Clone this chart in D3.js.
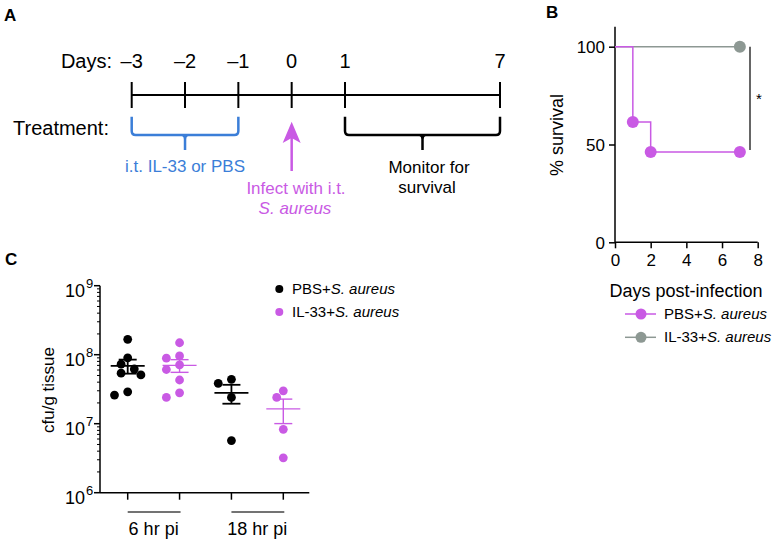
<!DOCTYPE html>
<html lang="en">
<head>
    <meta charset="UTF-8">
    <title>IL-33 and S. aureus</title>
    <script src="https://d3js.org/d3.v7.min.js"></script>
    <style>
        body { margin: 0; background: white; }
        svg { display: block; font-family: "Liberation Sans", Arial, sans-serif; }
        .ax line, .ax path { stroke: black; stroke-width: 1.5px; }
        .ax text { font-size: 17px; fill: black; font-family: "Liberation Sans", Arial, sans-serif; }
    </style>
</head>
<body>
<svg id="canvas" width="774" height="539"></svg>
<script>
    // ---- panel A: timeline ----
    const timelineDays = [-3, -2, -1, 0, 1, 7];
    const dayLabels = ["\u20133", "\u20132", "\u20131", "0", "1", "7"];

    // ---- panel B: survival ----
    const survivalDays = [0, 1, 2, 7];
    const pbsSurvival = [100, 61.5, 46.2, 46.2];
    const il33Survival = [100, 100, 100, 100];
    const survivalTicksX = [0, 2, 4, 6, 8];
    const survivalTicksY = [0, 50, 100];

    // ---- panel C: cfu per g tissue ----
    const timeGroups = ["6 hr pi", "18 hr pi"];
    const pbs6 = [1.67e8, 9.0e7, 7.3e7, 6.2e7, 5.4e7, 5.1e7, 2.9e7, 2.6e7];
    const il33_6 = [1.49e8, 9.6e7, 8.9e7, 7.1e7, 6.1e7, 4.3e7, 2.8e7, 2.4e7];
    const pbs18 = [4.4e7, 3.85e7, 2.4e7, 5.7e6];
    const il33_18 = [3.0e7, 2.4e7, 8.3e6, 3.2e6];
    const cfuExponents = [6, 7, 8, 9];

    const purple = "#c95ae4", blue = "#3b7ed8", grey = "#8d9893";
    const svg = d3.select("#canvas");

    // panel letters
    [["A", 4, 21], ["B", 546, 18], ["C", 5, 265]].forEach(([t, x, y]) => {
        svg.append("text").attr("x", x).attr("y", y).text(t)
            .style("font-size", "17px").style("font-weight", "bold");
    });

    // ================= A =================
    const tx = d3.scaleLinear().domain([-3, 1, 7]).range([131.7, 345, 500]);
    const gA = svg.append("g");
    const lineY = 95;
    gA.append("line").attr("x1", tx(-3)).attr("x2", tx(7)).attr("y1", lineY).attr("y2", lineY)
        .attr("stroke", "black").attr("stroke-width", 2);
    gA.selectAll(".tk").data(timelineDays).enter().append("line")
        .attr("x1", d => tx(d)).attr("x2", d => tx(d))
        .attr("y1", lineY - 13).attr("y2", lineY + 13)
        .attr("stroke", "black").attr("stroke-width", 2);
    gA.selectAll(".dl").data(timelineDays).enter().append("text")
        .attr("x", d => tx(d)).attr("y", 68).attr("text-anchor", "middle")
        .style("font-size", "20px").text((d, i) => dayLabels[i]);
    gA.append("text").attr("x", 112).attr("y", 68).attr("text-anchor", "end")
        .style("font-size", "20px").text("Days:");
    gA.append("text").attr("x", 13).attr("y", 135)
        .style("font-size", "20px").text("Treatment:");

    function brace(x1, x2, color) {
        const top = 116.7, h = 135, r = 4, xm = (x1 + x2) / 2;
        gA.append("path")
            .attr("d", `M${x1},${top}V${h - r}Q${x1},${h} ${x1 + r},${h}H${x2 - r}Q${x2},${h} ${x2},${h - r}V${top}` +
                `M${xm - 3},${h}Q${xm},${h} ${xm},${h + 4}V${h + 15}M${xm + 3},${h}Q${xm},${h} ${xm},${h + 4}`)
            .attr("fill", "none").attr("stroke", color).attr("stroke-width", 2.5);
    }
    brace(tx(-3), tx(-1), blue);
    brace(tx(1), tx(7), "black");

    gA.append("text").attr("x", (tx(-3) + tx(-1)) / 2).attr("y", 172).attr("text-anchor", "middle")
        .style("font-size", "17px").attr("fill", blue).text("i.t. IL-33 or PBS");

    // arrow at day 0
    const ax0 = tx(0);
    gA.append("line").attr("x1", ax0).attr("x2", ax0).attr("y1", 171).attr("y2", 135)
        .attr("stroke", purple).attr("stroke-width", 2.5);
    gA.append("path")
        .attr("d", `M${ax0},121.7L${ax0 - 9},143L${ax0},138L${ax0 + 9},143Z`)
        .attr("fill", purple);
    gA.append("text").attr("x", 296).attr("y", 194).attr("text-anchor", "middle")
        .style("font-size", "17px").attr("fill", purple).text("Infect with i.t.");
    gA.append("text").attr("x", 295).attr("y", 214).attr("text-anchor", "middle")
        .style("font-size", "17px").style("font-style", "italic").attr("fill", purple).text("S. aureus");

    gA.append("text").attr("x", 429).attr("y", 173).attr("text-anchor", "middle")
        .style("font-size", "17px").text("Monitor for");
    gA.append("text").attr("x", 427).attr("y", 193).attr("text-anchor", "middle")
        .style("font-size", "17px").text("survival");

    // ================= B =================
    const bx = d3.scaleLinear().domain([0, 8]).range([615, 757.7]);
    const by = d3.scaleLinear().domain([0, 100]).range([242.3, 46.7]);
    const gB = svg.append("g");

    const gxB = gB.append("g").attr("class", "ax").attr("transform", `translate(0,${by(0)})`)
        .call(d3.axisBottom(bx).tickValues(survivalTicksX).tickSize(6).tickPadding(6));
    const gyB = gB.append("g").attr("class", "ax").attr("transform", `translate(${bx(0)},0)`)
        .call(d3.axisLeft(by).tickValues(survivalTicksY).tickSize(6).tickPadding(4));
    gxB.select(".domain").remove();
    gyB.select(".domain").remove();
    gB.append("line").attr("x1", bx(0)).attr("x2", bx(8)).attr("y1", by(0)).attr("y2", by(0))
        .attr("stroke", "black").attr("stroke-width", 1.5);
    gB.append("line").attr("x1", bx(0)).attr("x2", bx(0)).attr("y1", by(0)).attr("y2", 26.7)
        .attr("stroke", "black").attr("stroke-width", 1.5);
    gyB.selectAll("text").attr("dy", "0.35em");

    gB.append("text").attr("x", 686).attr("y", 297).attr("text-anchor", "middle")
        .style("font-size", "18px").text("Days post-infection");
    gB.append("text").attr("transform", "translate(563,135) rotate(-90)").attr("text-anchor", "middle")
        .style("font-size", "18px").text("% survival");

    const step = d3.line().curve(d3.curveStepAfter).x(d => bx(d[0])).y(d => by(d[1]));
    function survivalCurve(vals, color) {
        const pts = survivalDays.map((d, i) => [d, vals[i]]);
        gB.append("path").attr("d", step(pts)).attr("fill", "none")
            .attr("stroke", color).attr("stroke-width", 1.5);
        const marks = pts.filter((p, i) => i > 0 && (p[1] !== vals[i - 1] || i === pts.length - 1));
        gB.selectAll(null).data(marks).enter().append("circle")
            .attr("cx", d => bx(d[0])).attr("cy", d => by(d[1])).attr("r", 6).attr("fill", color);
    }
    survivalCurve(il33Survival, grey);
    survivalCurve(pbsSurvival, purple);

    gB.append("line").attr("x1", 750).attr("x2", 750).attr("y1", by(il33Survival[3])).attr("y2", by(pbsSurvival[3]) - 2)
        .attr("stroke", "#333").attr("stroke-width", 1.5);
    gB.append("text").attr("x", 759).attr("y", 104).attr("text-anchor", "middle")
        .style("font-size", "15px").text("*");

    [["PBS+", purple, 314], ["IL-33+", grey, 337.3]].forEach(([lab, c, y]) => {
        gB.append("line").attr("x1", 625).attr("x2", 656).attr("y1", y).attr("y2", y)
            .attr("stroke", c).attr("stroke-width", 1.5);
        gB.append("circle").attr("cx", 641).attr("cy", y).attr("r", 5.5).attr("fill", c);
        const t = gB.append("text").attr("x", 664).attr("y", y + 5).style("font-size", "15px");
        t.append("tspan").text(lab);
        t.append("tspan").style("font-style", "italic").text("S. aureus");
    });

    // ================= C =================
    const gC = svg.append("g");
    const cy = d3.scaleLog().domain([1e6, 1e9]).range([492.7, 285.7]);
    const seriesKeys = ["pbs6", "il6", "pbs18", "il18"];
    const series = [
        {key: "pbs6", vals: pbs6, color: "black"},
        {key: "il6", vals: il33_6, color: purple},
        {key: "pbs18", vals: pbs18, color: "black"},
        {key: "il18", vals: il33_18, color: purple}
    ];
    const cx = d3.scalePoint().domain(seriesKeys).range([127.7, 283.3]);
    const axX0 = 100, axX1 = 309.3;

    // y axis with minor ticks
    gC.append("line").attr("x1", axX0).attr("x2", axX0).attr("y1", cy(1e9)).attr("y2", cy(1e6))
        .attr("stroke", "black").attr("stroke-width", 1.5);
    const minor = [];
    cfuExponents.slice(0, -1).forEach(e => d3.range(2, 10).forEach(m => minor.push(m * Math.pow(10, e))));
    gC.selectAll(".mn").data(minor).enter().append("line")
        .attr("x1", axX0 - 3).attr("x2", axX0).attr("y1", d => cy(d)).attr("y2", d => cy(d))
        .attr("stroke", "black").attr("stroke-width", 1);
    gC.selectAll(".mj").data(cfuExponents).enter().append("line")
        .attr("x1", axX0 - 6).attr("x2", axX0).attr("y1", d => cy(Math.pow(10, d))).attr("y2", d => cy(Math.pow(10, d)))
        .attr("stroke", "black").attr("stroke-width", 1.5);
    gC.selectAll(".ml").data(cfuExponents).enter().append("text")
        .attr("x", 85).attr("y", d => cy(Math.pow(10, d)) + 11).attr("text-anchor", "end")
        .style("font-size", "18px").text("10");
    gC.selectAll(".sp").data(cfuExponents).enter().append("text")
        .attr("x", 86).attr("y", d => cy(Math.pow(10, d)) + 2)
        .style("font-size", "13px").text(d => d);

    gC.append("text").attr("transform", "translate(54,390) rotate(-90)").attr("text-anchor", "middle")
        .style("font-size", "17px").text("cfu/g tissue");

    // x axis
    gC.append("line").attr("x1", axX0).attr("x2", axX1).attr("y1", cy(1e6)).attr("y2", cy(1e6))
        .attr("stroke", "black").attr("stroke-width", 1.5);
    gC.selectAll(".xt").data(seriesKeys).enter().append("line")
        .attr("x1", d => cx(d)).attr("x2", d => cx(d)).attr("y1", cy(1e6)).attr("y2", cy(1e6) + 7)
        .attr("stroke", "black").attr("stroke-width", 1.5);
    timeGroups.forEach((g, i) => {
        const a = cx(seriesKeys[i * 2]), b = cx(seriesKeys[i * 2 + 1]);
        gC.append("line").attr("x1", a).attr("x2", b + 1).attr("y1", 512).attr("y2", 512)
            .attr("stroke", "#444").attr("stroke-width", 1.5);
        gC.append("text").attr("x", (a + b) / 2).attr("y", 535).attr("text-anchor", "middle")
            .style("font-size", "18px").text(g);
    });

    // simple beeswarm
    const r = 4.4;
    function swarm(vals, x0) {
        const placed = [];
        vals.slice().sort((a, b) => b - a).forEach(v => {
            const y = cy(v);
            const cands = [0];
            for (let k = 1; k < 10; k++) cands.push(-k * r * 1.5, k * r * 1.5);
            for (const dx of cands) {
                if (placed.every(p => Math.hypot(p.x - (x0 + dx), p.y - y) >= 2 * r * 0.98)) {
                    placed.push({x: x0 + dx, y: y});
                    break;
                }
            }
        });
        return placed;
    }

    series.forEach(s => {
        const x0 = cx(s.key);
        const pts = swarm(s.vals, x0);
        gC.selectAll(null).data(pts).enter().append("circle")
            .attr("cx", d => d.x).attr("cy", d => d.y).attr("r", r).attr("fill", s.color);
        const m = d3.mean(s.vals);
        const sem = d3.deviation(s.vals) / Math.sqrt(s.vals.length);
        const sw = s.color === "black" ? 1.8 : 1.4;
        gC.append("line").attr("x1", x0 - 17).attr("x2", x0 + 17).attr("y1", cy(m)).attr("y2", cy(m))
            .attr("stroke", s.color).attr("stroke-width", sw);
        gC.append("line").attr("x1", x0).attr("x2", x0).attr("y1", cy(m + sem)).attr("y2", cy(m - sem))
            .attr("stroke", s.color).attr("stroke-width", sw);
        [m + sem, m - sem].forEach(v => {
            gC.append("line").attr("x1", x0 - 9).attr("x2", x0 + 9).attr("y1", cy(v)).attr("y2", cy(v))
                .attr("stroke", s.color).attr("stroke-width", sw);
        });
    });

    // legend C
    [["PBS+", "black", 289], ["IL-33+", purple, 312]].forEach(([lab, c, y]) => {
        gC.append("circle").attr("cx", 279.3).attr("cy", y).attr("r", 4).attr("fill", c);
        const t = gC.append("text").attr("x", 292).attr("y", y + 5).style("font-size", "15px");
        t.append("tspan").text(lab);
        t.append("tspan").style("font-style", "italic").text("S. aureus");
    });
</script>
</body>
</html>
